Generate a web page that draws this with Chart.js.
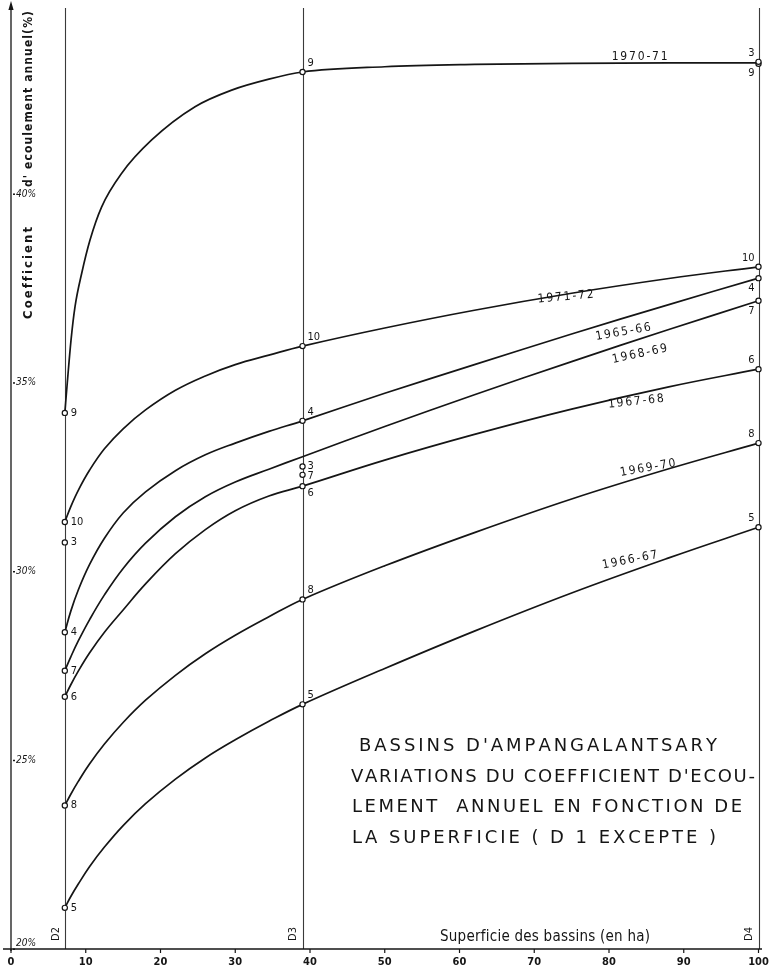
<!DOCTYPE html>
<html>
<head>
<meta charset="utf-8">
<script src="https://cdn.jsdelivr.net/npm/chart.js@4.4.1/dist/chart.umd.min.js"></script>
<style>
  html, body { margin: 0; padding: 0; background: #ffffff; }
  canvas { display: block; }
</style>
</head>
<body>
<canvas id="c" width="772" height="968"></canvas>
<script>
// Gauged basins and their areas (ha)
const basinNames = ['D2', 'D3', 'D4'];
const basinArea = [7.2, 39, 100];

// Observed annual runoff coefficient (%) at D2, D3, D4 — one array per year number
const obs3  = [30.77, 32.78, 43.50]; // 1964-65
const obs4  = [28.39, 33.99, 37.77]; // 1965-66
const obs5  = [21.09, 26.48, 31.17]; // 1966-67
const obs6  = [26.68, 32.26, 35.36]; // 1967-68
const obs7  = [27.37, 32.56, 37.17]; // 1968-69
const obs8  = [23.80, 29.26, 33.40]; // 1969-70
const obs9  = [34.20, 43.23, 43.45]; // 1970-71
const obs10 = [31.31, 35.97, 38.07]; // 1971-72

// Hand-drawn curves, sampled along the area axis (ha)
const curveArea197071 = [7.2, 7.53, 8.03, 8.56, 9.46, 10.57, 12.13, 14.81, 18.82, 24.62, 29.52, 34.5, 39, 50, 62, 75, 88, 100];
const curve197071     = [34.2, 35.0, 36.13, 37.01, 37.9, 38.78, 39.66, 40.55, 41.43, 42.31, 42.75, 43.04, 43.23, 43.37, 43.43, 43.46, 43.47, 43.47];

const curveArea   = [7.2, 8, 9, 10.5, 12.5, 15, 18, 22, 26, 30, 34.5, 39, 50, 62, 75, 88, 100];
const curve197172 = [31.31, 31.72, 32.15, 32.68, 33.25, 33.78, 34.28, 34.80, 35.18, 35.48, 35.73, 35.97, 36.45, 36.92, 37.37, 37.76, 38.07];
const curve196566 = [28.39, 28.95, 29.51, 30.18, 30.88, 31.55, 32.11, 32.67, 33.09, 33.40, 33.71, 33.99, 34.72, 35.48, 36.29, 37.07, 37.77];
const curve196869 = [27.37, 27.74, 28.16, 28.72, 29.38, 30.08, 30.75, 31.45, 31.98, 32.37, 32.71, 33.04, 33.84, 34.68, 35.56, 36.41, 37.17];
const curve196768 = [26.68, 27.00, 27.36, 27.84, 28.39, 28.98, 29.67, 30.47, 31.11, 31.61, 32.00, 32.26, 32.95, 33.63, 34.30, 34.89, 35.36];
const curve196970 = [23.80, 24.10, 24.44, 24.90, 25.43, 26.00, 26.59, 27.25, 27.82, 28.31, 28.80, 29.26, 30.15, 31.03, 31.92, 32.72, 33.40];
const curve196667 = [21.09, 21.39, 21.72, 22.18, 22.70, 23.27, 23.85, 24.50, 25.06, 25.54, 26.03, 26.48, 27.43, 28.42, 29.43, 30.36, 31.17];

// Axis ticks
const xTicks = [0, 10, 20, 30, 40, 50, 60, 70, 80, 90, 100];
const yTicks = [20, 25, 30, 35, 40];

const INK = '#151515';
const COND = '"DejaVu Sans Condensed", "Liberation Sans Narrow", "DejaVu Sans", sans-serif';

function toXY(xs, ys) { return xs.map((x, i) => ({ x: x, y: ys[i] })); }

const curves = [
  { label: '1970-71', area: curveArea197071, values: curve197071, steep: true },
  { label: '1971-72', area: curveArea, values: curve197172 },
  { label: '1965-66', area: curveArea, values: curve196566 },
  { label: '1968-69', area: curveArea, values: curve196869 },
  { label: '1967-68', area: curveArea, values: curve196768 },
  { label: '1969-70', area: curveArea, values: curve196970 },
  { label: '1966-67', area: curveArea, values: curve196667 }
];

const stations = [
  { id: '3', values: obs3 }, { id: '4', values: obs4 }, { id: '5', values: obs5 },
  { id: '6', values: obs6 }, { id: '7', values: obs7 }, { id: '8', values: obs8 },
  { id: '9', values: obs9 }, { id: '10', values: obs10 }
];

// Number placement around each circle: [dx, dy, align] for D2, D3, D4
const numberPlacement = {
  '3':  [[6, 0, 'left'], [5, 0, 'left'], [-4, -9, 'right']],
  '4':  [[6, 0, 'left'], [5, -9, 'left'], [-4, 10, 'right']],
  '5':  [[6, 0, 'left'], [5, -9, 'left'], [-4, -9, 'right']],
  '6':  [[6, 0, 'left'], [5, 7, 'left'], [-4, -9, 'right']],
  '7':  [[6, 0, 'left'], [5, 1, 'left'], [-4, 10, 'right']],
  '8':  [[6, 0, 'left'], [5, -9, 'left'], [-4, -9, 'right']],
  '9':  [[6, 0, 'left'], [5, -9, 'left'], [-4, 9, 'right']],
  '10': [[6, 0, 'left'], [5, -9, 'left'], [-4, -9, 'right']]
};

// Year labels written along the curves: area, coefficient, slant (deg), width (px)
const yearLabelPlacement = {
  '1970-71': [84.1, 43.63, 0, 56],
  '1971-72': [74.2, 37.27, -5, 56],
  '1965-66': [81.9, 36.34, -10, 56],
  '1968-69': [84.1, 35.76, -12, 56],
  '1967-68': [83.6, 34.50, -6, 56],
  '1969-70': [85.2, 32.74, -10, 56],
  '1966-67': [82.8, 30.30, -11, 56]
};

// Draw a string centred on (cx, cy), spread to a given width, optionally rotated
function spreadText(ctx, text, cx, cy, width, angleDeg) {
  const chars = Array.from(text);
  const widths = chars.map(ch => ctx.measureText(ch).width);
  const natural = widths.reduce((a, b) => a + b, 0);
  const gap = chars.length > 1 ? (width - natural) / (chars.length - 1) : 0;
  ctx.save();
  ctx.translate(cx, cy);
  ctx.rotate((angleDeg || 0) * Math.PI / 180);
  ctx.textAlign = 'left';
  ctx.textBaseline = 'middle';
  let x = -width / 2;
  chars.forEach((ch, i) => { ctx.fillText(ch, x, 0); x += widths[i] + gap; });
  ctx.restore();
}

const decor = {
  id: 'decor',
  beforeDatasetsDraw(chart) {
    const ctx = chart.ctx;
    const xs = chart.scales.x, ys = chart.scales.y;
    const y0 = ys.getPixelForValue(20);
    ctx.save();
    // basin verticals
    ctx.strokeStyle = '#3a3a3a';
    ctx.lineWidth = 1.1;
    basinArea.forEach(a => {
      const px = Math.round(xs.getPixelForValue(a)) + 0.5;
      ctx.beginPath(); ctx.moveTo(px, 8); ctx.lineTo(px, y0); ctx.stroke();
    });
    // x axis
    ctx.strokeStyle = INK;
    ctx.lineWidth = 1.4;
    ctx.beginPath(); ctx.moveTo(3, y0); ctx.lineTo(762, y0); ctx.stroke();
    ctx.lineWidth = 1.2;
    xTicks.forEach(t => {
      const px = xs.getPixelForValue(t);
      ctx.beginPath(); ctx.moveTo(px, y0); ctx.lineTo(px, y0 + 4); ctx.stroke();
    });
    // y axis with arrow
    const ax = xs.getPixelForValue(0);
    ctx.lineWidth = 1.3;
    ctx.beginPath(); ctx.moveTo(ax, y0 + 2); ctx.lineTo(ax, 6); ctx.stroke();
    ctx.fillStyle = INK;
    ctx.beginPath(); ctx.moveTo(ax, 1); ctx.lineTo(ax - 2.6, 10); ctx.lineTo(ax + 2.6, 10); ctx.closePath(); ctx.fill();
    yTicks.forEach(t => {
      const py = ys.getPixelForValue(t);
      ctx.fillRect(ax + 2, py - 0.5, 2, 1.5);
    });
    ctx.restore();
  },
  afterDatasetsDraw(chart) {
    const ctx = chart.ctx;
    const xs = chart.scales.x, ys = chart.scales.y;
    ctx.save();
    ctx.fillStyle = INK;

    // x tick labels
    ctx.font = 'bold 11px ' + COND;
    ctx.textAlign = 'center';
    ctx.textBaseline = 'middle';
    xTicks.forEach(t => ctx.fillText(String(t), xs.getPixelForValue(t), 962));

    // y tick labels
    ctx.font = 'italic 10px ' + COND;
    ctx.textAlign = 'left';
    yTicks.forEach(t => {
      const py = ys.getPixelForValue(t);
      ctx.fillText(t + '%', 16, t === 20 ? py - 6 : py);
    });

    // y axis title, written upwards
    ctx.font = 'bold 13px ' + COND;
    spreadText(ctx, 'Coefficient', 29, 273, 92, -90);
    ctx.font = 'bold 12px ' + COND;
    spreadText(ctx, "d' ecoulement annuel(%)", 29, 99, 176, -90);

    // x axis title
    ctx.font = '15px ' + COND;
    spreadText(ctx, 'Superficie des bassins (en ha)', 545, 937, 210, 0);

    // basin names along the verticals
    ctx.font = '11px ' + COND;
    basinNames.forEach((n, i) => {
      const px = xs.getPixelForValue(basinArea[i]) - 9;
      ctx.save();
      ctx.translate(px, 934);
      ctx.rotate(-Math.PI / 2);
      ctx.textAlign = 'center';
      ctx.textBaseline = 'middle';
      ctx.fillText(n, 0, 0);
      ctx.restore();
    });

    // year labels on the curves
    ctx.font = '12px ' + COND;
    curves.forEach(c => {
      const p = yearLabelPlacement[c.label];
      spreadText(ctx, c.label, xs.getPixelForValue(p[0]), ys.getPixelForValue(p[1]), p[3], p[2]);
    });

    // numbers next to the observed points
    ctx.font = '11px ' + COND;
    ctx.textBaseline = 'middle';
    chart.data.datasets.forEach((ds, di) => {
      if (!ds.stationId) return;
      const meta = chart.getDatasetMeta(di);
      meta.data.forEach((el, i) => {
        const pl = numberPlacement[ds.stationId][i];
        ctx.textAlign = pl[2];
        ctx.fillText(ds.stationId, el.x + pl[0], el.y + pl[1]);
      });
    });

    // title block
    ctx.font = '18px "DejaVu Sans", sans-serif';
    spreadText(ctx, "BASSINS D'AMPANGALANTSARY", 538, 746, 358, 0);
    spreadText(ctx, "VARIATIONS DU COEFFICIENT D'ECOU-", 553, 777, 404, 0);
    spreadText(ctx, 'LEMENT  ANNUEL EN FONCTION DE', 547, 807, 390, 0);
    spreadText(ctx, 'LA SUPERFICIE ( D 1 EXCEPTE )', 534, 838, 364, 0);

    ctx.restore();
  }
};

const datasets = [];
curves.forEach(c => {
  datasets.push({
    type: 'line',
    label: c.label,
    data: toXY(c.area, c.values),
    borderColor: INK,
    borderWidth: 1.7,
    pointRadius: 0,
    fill: false,
    tension: 0.4,
    cubicInterpolationMode: c.steep ? 'monotone' : 'default',
    clip: false,
    order: 2
  });
});
stations.forEach(s => {
  datasets.push({
    type: 'scatter',
    label: 'n° ' + s.id,
    stationId: s.id,
    data: toXY(basinArea, s.values),
    pointStyle: 'circle',
    pointRadius: 2.6,
    pointBorderWidth: 1.2,
    pointBorderColor: INK,
    pointBackgroundColor: '#ffffff',
    showLine: false,
    clip: false,
    order: 1
  });
});

new Chart(document.getElementById('c'), {
  type: 'line',
  data: { datasets: datasets },
  options: {
    responsive: false,
    animation: false,
    devicePixelRatio: 1,
    layout: { padding: { left: 11, right: 13.5, top: 5, bottom: 19 } },
    scales: {
      x: { type: 'linear', min: 0, max: 100, display: false },
      y: { type: 'linear', min: 20, max: 45, display: false }
    },
    plugins: { legend: { display: false }, tooltip: { enabled: false } },
    events: []
  },
  plugins: [decor]
});
</script>
</body>
</html>
